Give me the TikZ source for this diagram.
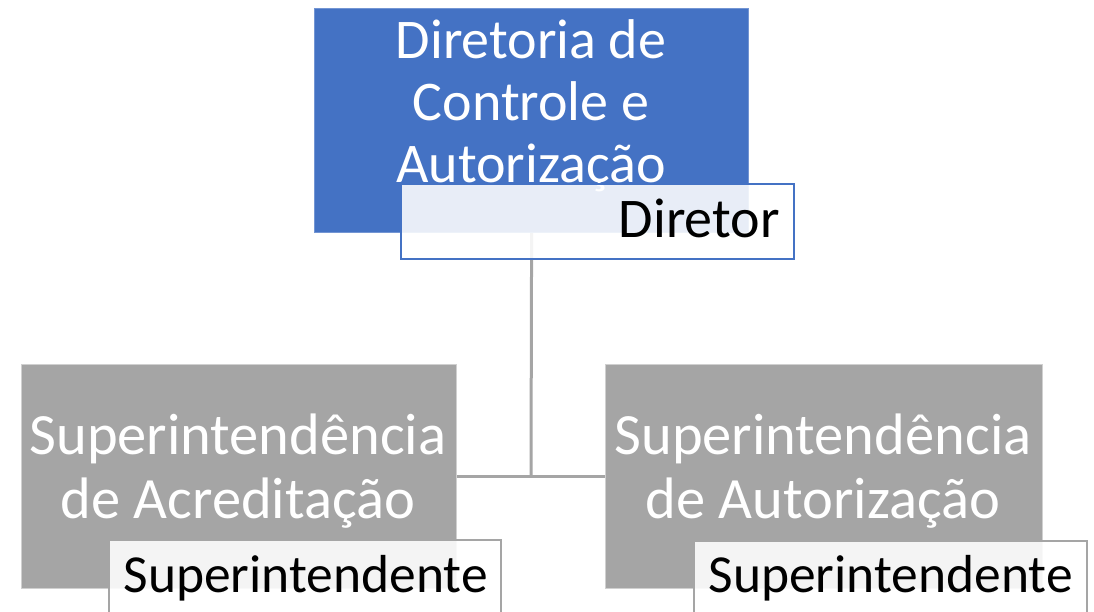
\documentclass[tikz,border=0pt]{standalone}
\usepackage{fontspec}
\setmainfont{Carlito}
\definecolor{blueA}{HTML}{4472C4}
\definecolor{grayA}{HTML}{A5A5A5}
\definecolor{grayL}{HTML}{D0D0D0}
\begin{document}
\begin{tikzpicture}[x=1pt,y=-1pt,
  txt/.style={inner sep=0pt},
  toptxt/.style={txt, font=\fontsize{56}{62}\selectfont},
  bigtxt/.style={txt, font=\fontsize{58.5}{64}\selectfont},
  subtxt/.style={txt, font=\fontsize{53.5}{62}\selectfont},
  mainbox/.style={rectangle, anchor=north west, inner sep=0pt, line width=1.2pt},
  subbox/.style={rectangle, anchor=north west, inner sep=0pt, line width=1.5pt, fill=white, fill opacity=0.88},
  conn/.style={draw=grayA, line width=3pt}]
\useasboundingbox (0,0) rectangle (1094,611);
% main boxes
\node[mainbox, fill=blueA, draw=blueA!75!white, minimum width=434pt, minimum height=224pt] (top) at (314,8) {};
\node[mainbox, fill=grayA, draw=grayL, minimum width=435pt, minimum height=224pt] (la) at (21,364) {};
\node[mainbox, fill=grayA, draw=grayL, minimum width=437pt, minimum height=224pt] (ra) at (605,364) {};
% connectors
\coordinate (j) at (531,476);
\draw[conn] (top.south) -- (j);
\draw[conn] (la.east) -- (ra.west);
% main texts (base anchor = last line)
\node[toptxt, text=white, align=center, anchor=base] (tt) at (531,182) {Diretoria de\\Controle e\\Autorização};
\node[bigtxt, text=white, align=center, anchor=base] (lt) at (238,518) {Superintendência\\de Acreditação};
\node[bigtxt, text=white, align=center, anchor=base] (rt) at (823,518) {Superintendência\\de Autorização};
% sub boxes
\node[subbox, draw=blueA, minimum width=393pt, minimum height=75pt] (dir) at (400,183) {};
\node[subbox, draw=grayA, minimum width=392pt, minimum height=90pt] (ls) at (108,539) {};
\node[subbox, draw=grayA, minimum width=393pt, minimum height=90pt] (rs) at (693,540) {};
\node[toptxt, anchor=base east] (dt) at (780,237) {Diretor};
\node[subtxt, anchor=base east] (lst) at (488,592) {Superintendente};
\node[subtxt, anchor=base east] (rst) at (1073,592) {Superintendente};
\end{tikzpicture}
\end{document}
